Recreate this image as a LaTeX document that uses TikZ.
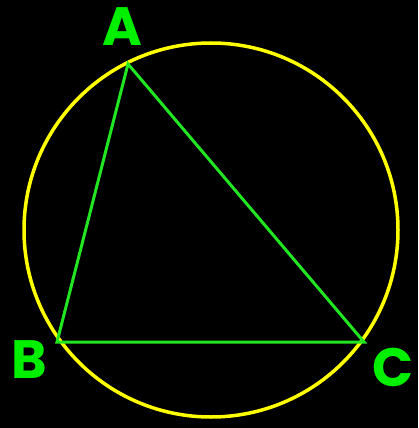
\documentclass[tikz,border=0pt]{standalone}
\usepackage{fontspec}
\setmainfont{Poppins}
\usetikzlibrary{positioning, calc}
\definecolor{inkring}{HTML}{FFFF00}
\definecolor{inkside}{HTML}{22E622}
\definecolor{inklabel}{HTML}{00F000}
\tikzset{vlabel/.style={text=inklabel, font=\fontsize{54}{54}\selectfont\bfseries, inner sep=0pt}}

\begin{document}
\begin{tikzpicture}[x=1pt, y=-1pt]
  \fill[black] (0,0) rectangle (418,428);
  \useasboundingbox (0,0) rectangle (418,428);
  \coordinate (o) at (211,230);
  \draw[inkring, line width=3.5pt] (o) circle[radius=187pt];
  \coordinate (a) at (128,64);
  \coordinate (b) at (57,342);
  \coordinate (c) at (364,342);
  \draw[inkside, line width=3pt, line join=miter] (a) -- (b) -- (c) -- cycle;
  \node[vlabel] (la) at (122,27) {A};
  \node[vlabel] (lb) at (29,360) {B};
  \node[vlabel] (lc) at (393,367) {C};
\end{tikzpicture}
\end{document}
